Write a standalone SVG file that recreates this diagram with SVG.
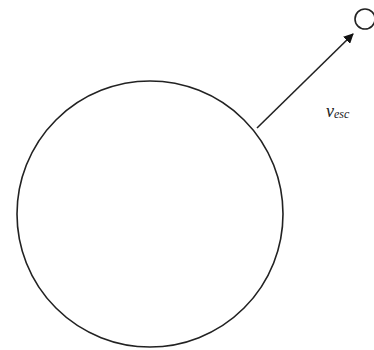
<svg xmlns="http://www.w3.org/2000/svg" width="374" height="350" viewBox="0 0 374 350">
<style>
.s{fill:none;stroke:#222;stroke-width:1.6}
.t{font-family:"Liberation Serif",serif;font-style:italic;fill:#222}
</style>
<defs>
<marker id="ah" markerWidth="10" markerHeight="10" refX="9" refY="5" orient="auto" markerUnits="userSpaceOnUse" viewBox="0 0 10 10">
<path d="M0,0 L10,5 L0,10 z" fill="#111"/>
</marker>
</defs>
<rect width="374" height="350" fill="#fff"/>
<g id="planet"><circle class="s" cx="150" cy="214" r="133"/></g>
<g id="body"><circle class="s" cx="365" cy="19" r="10"/></g>
<g id="connectors"><line class="s" x1="257" y1="128" x2="353" y2="34" marker-end="url(#ah)"/></g>
<g id="label"><text class="t" x="326" y="117" font-size="18">v<tspan font-size="12" dy="1">esc</tspan></text></g>
</svg>
